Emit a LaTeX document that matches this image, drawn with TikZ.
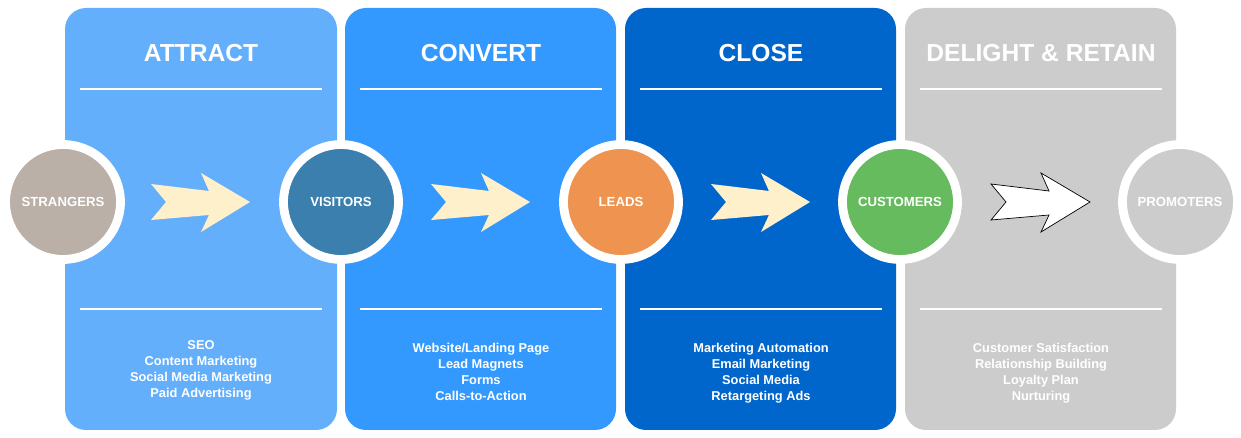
\documentclass[tikz,border=0pt]{standalone}
\usepackage{fontspec}
\setmainfont{Liberation Sans}
\definecolor{AttractBlue}{HTML}{63AFFC}
\definecolor{ConvertBlue}{HTML}{3399FF}
\definecolor{CloseBlue}{HTML}{0066CC}
\definecolor{RetainGrey}{HTML}{CCCCCC}
\definecolor{StrangerTaupe}{HTML}{BAB0A8}
\definecolor{VisitorTeal}{HTML}{3A7FAD}
\definecolor{LeadOrange}{HTML}{EE9450}
\definecolor{CustomerGreen}{HTML}{66BB5E}
\definecolor{ArrowCream}{HTML}{FFF0CC}
\usetikzlibrary{calc}
\begin{document}
\begin{tikzpicture}[x=0.02cm, y=-0.02cm,
		stage/.style={rounded corners=12pt},
		title/.style={font=\fontsize{14}{16}\selectfont\bfseries, text=white},
		tools/.style={font=\fontsize{7.3}{9.1}\selectfont\bfseries, text=white, align=center, anchor=north},
		rule/.style={white, line width=1pt},
		phase/.style={circle, draw=white, line width=5pt, minimum size=2.3cm, inner sep=0pt,
			font=\fontsize{7.5}{9}\selectfont\bfseries, text=white},
		push/.style={fill=ArrowCream, draw=none},
		pushlast/.style={fill=white, draw=black, line width=0.4pt}]
		% fond et cadre
		\useasboundingbox (0,0) rectangle (1241,438);
		\fill[white] (0,0) rectangle (1241,438);

		% Colonnes des étapes
		\fill[stage, AttractBlue] (65,8) rectangle (337,430);
		\fill[stage, ConvertBlue] (345,8) rectangle (616,430);
		\fill[stage, CloseBlue] (625,8) rectangle (896,430);
		\fill[stage, RetainGrey] (905,8) rectangle (1176,430);

		\foreach \x/\t in {201/ATTRACT, 481/CONVERT, 761/CLOSE, 1041/DELIGHT \& RETAIN} {
			\node[title] (t\x) at (\x,53) {\t};
			\draw[rule] (\x-121,89) -- (\x+121,89);
			\draw[rule] (\x-121,309) -- (\x+121,309);
		}

		% Listes sous les colonnes
		\node[tools] (seo) at (201,334) {SEO\\Content Marketing\\Social Media Marketing\\Paid Advertising};
		\node[tools] (web) at (481,337) {Website/Landing Page\\Lead Magnets\\Forms\\Calls-to-Action};
		\node[tools] (auto) at (761,337) {Marketing Automation\\Email Marketing\\Social Media\\Retargeting Ads};
		\node[tools] (sat) at (1041,337) {Customer Satisfaction\\Relationship Building\\Loyalty Plan\\Nurturing};

		% Flèches entre les cercles
		\foreach \tip/\sty in {250/push, 530/push, 810/push, 1090/pushlast} {
			\path[\sty] (\tip-99,184) -- (\tip-84,202) -- (\tip-99,220) -- (\tip-41,215)
				-- (\tip-49,232) -- (\tip,202) -- (\tip-49,173) -- (\tip-41,191) -- cycle;
		}

		% Cercles
		\node[phase, fill=StrangerTaupe] (strangers) at (63,202) {STRANGERS};
		\node[phase, fill=VisitorTeal] (visitors) at (341,202) {VISITORS};
		\node[phase, fill=LeadOrange] (leads) at (621,202) {LEADS};
		\node[phase, fill=CustomerGreen] (customers) at (900,202) {CUSTOMERS};
		\node[phase, fill=RetainGrey] (promoters) at (1180,202) {PROMOTERS};
	\end{tikzpicture}
\end{document}
